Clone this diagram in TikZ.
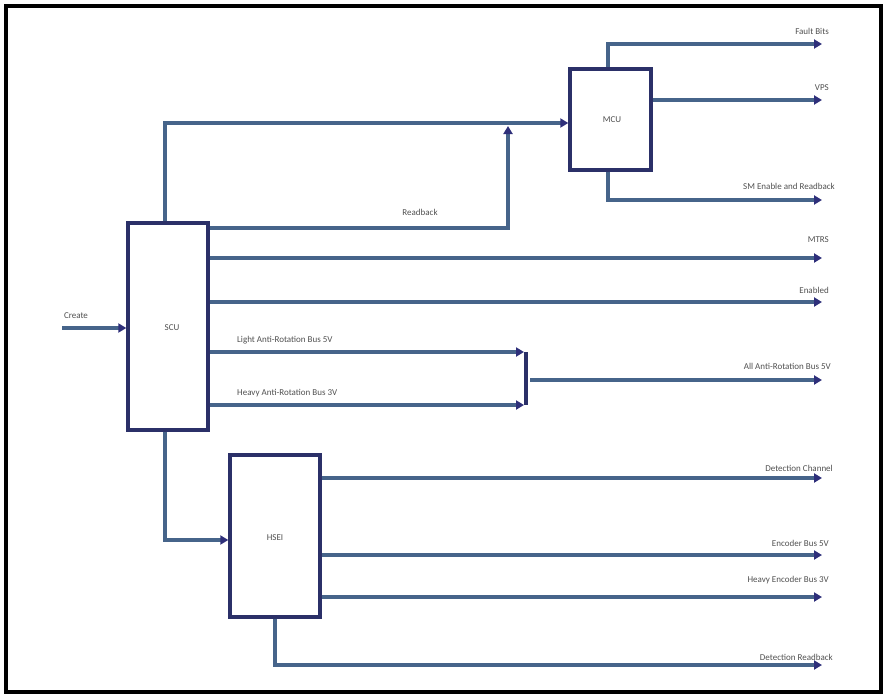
\documentclass[tikz,border=0pt]{standalone}
\usepackage{fontspec}
\setmainfont{Carlito}
\usetikzlibrary{arrows.meta}
\definecolor{wire}{HTML}{46648A}
\definecolor{boxline}{HTML}{2B3068}
\definecolor{tipc}{HTML}{2E2F7A}
\definecolor{labelc}{HTML}{505050}
\tikzset{
  block/.style={draw=boxline, line width=3.4pt, fill=white, inner sep=0pt},
  wirel/.style={draw=wire, line width=3.4pt},
  arr/.style={wirel, -{Triangle[length=8pt,width=9pt,color=tipc]}},
  lbl/.style={font=\fontsize{9}{10}\selectfont, text=labelc, inner sep=1pt},
}
\begin{document}
\begin{tikzpicture}[x=1pt,y=-1pt]
  \useasboundingbox (0,0) rectangle (885,696);
  \draw[line width=3.5pt] (6,6) rectangle (881,692);

  % blocks
  \node[block, minimum width=80pt, minimum height=207pt] (scu) at (168,326.5) {};
  \node[lbl] at (172,328) {SCU};
  \node[block, minimum width=81pt, minimum height=101pt] (mcu) at (610.5,119.5) {};
  \node[lbl] at (612,120) {MCU};
  \node[block, minimum width=90pt, minimum height=162pt] (hsei) at (275,536) {};
  \node[lbl] at (275,538) {HSEI};

  % input
  \coordinate (in) at (62,328);
  \node[lbl] at (76,316) {Create};
  \draw[arr] (in) -- (scu.west |- in);

  % SCU to MCU
  \coordinate (a1) at (165,123);
  \draw[arr] (scu.north -| a1) -- (a1) -- (mcu.west |- a1);
  \coordinate (rb1) at (508,228);
  \coordinate (rb2) at (508,126);
  \draw[arr] (scu.east |- rb1) -- (rb1) -- (rb2);
  \node[lbl] at (420,212) {Readback};

  % MCU outputs
  \coordinate (f1) at (608,44);
  \coordinate (f2) at (822,44);
  \draw[arr] (mcu.north -| f1) -- (f1) -- (f2);
  \node[lbl, anchor=east] at (830,31) {Fault Bits};
  \coordinate (v2) at (822,100);
  \draw[arr] (mcu.east |- v2) -- (v2);
  \node[lbl, anchor=east] at (830,88) {VPS};
  \coordinate (s1) at (608,200);
  \coordinate (s2) at (822,200);
  \draw[arr] (mcu.south -| s1) -- (s1) -- (s2);
  \node[lbl, anchor=east] at (836,186) {SM Enable and Readback};

  % SCU outputs
  \coordinate (m2) at (822,258);
  \draw[arr] (scu.east |- m2) -- (m2);
  \node[lbl, anchor=east] at (830,240) {MTRS};
  \coordinate (e2) at (822,302);
  \draw[arr] (scu.east |- e2) -- (e2);
  \node[lbl, anchor=east] at (830,290) {Enabled};

  \coordinate (la) at (524,352);
  \coordinate (ha) at (524,405);
  \draw[arr] (scu.east |- la) -- (la);
  \draw[arr] (scu.east |- ha) -- (ha);
  \node[lbl, anchor=west] at (236,340) {Light Anti-Rotation Bus 5V};
  \node[lbl, anchor=west] at (236,393) {Heavy Anti-Rotation Bus 3V};
  \coordinate (j1) at (526,352);
  \coordinate (j2) at (526,405);
  \draw[boxline, line width=3.4pt] (j1) -- (j2);
  \coordinate (aa1) at (530,380);
  \coordinate (aa2) at (822,380);
  \draw[arr] (aa1) -- (aa2);
  \node[lbl, anchor=east] at (832,366) {All Anti-Rotation Bus 5V};

  % SCU to HSEI
  \coordinate (d1) at (165,540);
  \draw[arr] (scu.south -| d1) -- (d1) -- (hsei.west |- d1);

  % HSEI outputs
  \coordinate (h1) at (822,478);
  \draw[arr] (hsei.east |- h1) -- (h1);
  \node[lbl, anchor=east] at (834,468) {Detection Channel};
  \coordinate (h2) at (822,555);
  \draw[arr] (hsei.east |- h2) -- (h2);
  \node[lbl, anchor=east] at (830,543) {Encoder Bus 5V};
  \coordinate (h3) at (822,597);
  \draw[arr] (hsei.east |- h3) -- (h3);
  \node[lbl, anchor=east] at (830,580) {Heavy Encoder Bus 3V};
  \coordinate (r1) at (275,665);
  \coordinate (r2) at (822,665);
  \draw[arr] (hsei.south -| r1) -- (r1) -- (r2);
  \node[lbl, anchor=east] at (834,657) {Detection Readback};
\end{tikzpicture}
\end{document}
